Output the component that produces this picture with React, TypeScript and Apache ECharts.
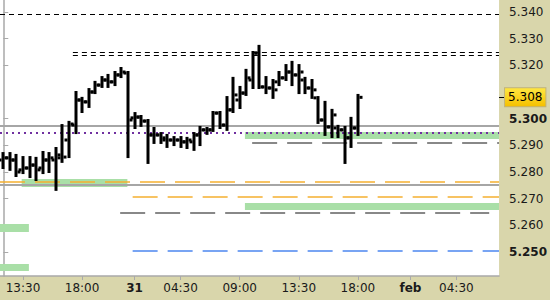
import React, { useEffect, useRef } from "react";
import * as echarts from "echarts";

// ---- time slots (30-minute bars, sessions) ----
const day30Slots = ["30 12:00", "30 12:30", "30 13:00", "30 13:30", "30 14:00", "30 14:30", "30 15:00", "30 15:30", "30 16:00", "30 16:30", "30 17:00", "30 17:30", "30 18:00", "30 18:30", "30 19:00", "30 19:30", "30 20:00", "30 20:30", "30 21:00", "30 21:30"];
const day31Slots = ["31 01:00", "31 01:30", "31 02:00", "31 02:30", "31 03:00", "31 03:30", "31 04:00", "31 04:30", "31 05:00", "31 05:30", "31 06:00", "31 06:30", "31 07:00", "31 07:30", "31 08:00", "31 08:30", "31 09:00", "31 09:30", "31 10:00", "31 10:30", "31 11:00", "31 11:30", "31 12:00", "31 12:30", "31 13:00", "31 13:30", "31 14:00", "31 14:30", "31 15:00", "31 15:30", "31 16:00", "31 16:30", "31 17:00", "31 17:30", "31 18:00", "31 18:30", "31 19:00", "31 19:30", "31 20:00", "31 20:30", "31 21:00", "31 21:30"];
const feb1Slots = ["01 01:00", "01 01:30", "01 02:00", "01 02:30", "01 03:00", "01 03:30", "01 04:00", "01 04:30", "01 05:00", "01 05:30", "01 06:00", "01 06:30", "01 07:00", "01 07:30"];
const timeSlots = [...day30Slots, ...day31Slots, ...feb1Slots];

const xTickIndex = [3, 12, 20, 27, 36, 45, 54, 62, 69];
const xTickLabels = ["13:30", "18:00", "31", "04:30", "09:00", "13:30", "18:00", "feb", "04:30"];
const boldXLabels = ["31", "feb"];

const yTickValues = [5.25, 5.26, 5.27, 5.28, 5.29, 5.3, 5.31, 5.32, 5.33, 5.34];
const boldYValues = [5.25, 5.3];
const yMin = 5.241;
const yMax = 5.3445;

// ---- OHLC bars ----
const opens = [5.2845, 5.2853, 5.2845, 5.2808, 5.2815, 5.2826, 5.2815, 5.2845, 5.2845, 5.2864, 5.292, 5.2976, 5.307, 5.3063, 5.31, 5.3126, 5.3145, 5.3138, 5.3164, 5.3171, 5.3003, 5.3006, 5.2991, 5.2939, 5.2939, 5.292, 5.292, 5.292, 5.2913, 5.2913, 5.2939, 5.2958, 5.2958, 5.3021, 5.2976, 5.3033, 5.307, 5.3096, 5.3145, 5.3246, 5.3119, 5.3115, 5.3138, 5.3153, 5.3175, 5.3164, 5.3145, 5.3115, 5.3078, 5.2995, 5.2969, 5.2965, 5.2958, 5.2928, 5.2965];
const highs = [5.2871, 5.2871, 5.2864, 5.2856, 5.2856, 5.2853, 5.2875, 5.2871, 5.289, 5.2976, 5.2988, 5.31, 5.3078, 5.3111, 5.3138, 5.3156, 5.3164, 5.3175, 5.319, 5.3175, 5.3021, 5.301, 5.2995, 5.2965, 5.2946, 5.2939, 5.2931, 5.2931, 5.2928, 5.2946, 5.2969, 5.2965, 5.3025, 5.3025, 5.3081, 5.3153, 5.3119, 5.3183, 5.325, 5.3273, 5.3156, 5.3145, 5.3175, 5.3201, 5.3213, 5.3201, 5.3153, 5.3145, 5.3081, 5.3063, 5.3033, 5.2973, 5.2969, 5.3003, 5.3089];
const lows = [5.2815, 5.2808, 5.2785, 5.2796, 5.2781, 5.277, 5.2796, 5.28, 5.2733, 5.2838, 5.2856, 5.2946, 5.3025, 5.3044, 5.3096, 5.3119, 5.3119, 5.3126, 5.3156, 5.2856, 5.2965, 5.2973, 5.2834, 5.2909, 5.2909, 5.2894, 5.2901, 5.2894, 5.289, 5.2883, 5.2901, 5.2943, 5.2954, 5.2965, 5.2958, 5.3025, 5.304, 5.3089, 5.3115, 5.3115, 5.3096, 5.3078, 5.3126, 5.3145, 5.3126, 5.3096, 5.3096, 5.3078, 5.2984, 5.2939, 5.2931, 5.2931, 5.2834, 5.2894, 5.2939];
const closes = [5.2853, 5.2845, 5.28, 5.2815, 5.2826, 5.2808, 5.2845, 5.2853, 5.2853, 5.2856, 5.298, 5.307, 5.3063, 5.31, 5.3126, 5.3145, 5.3138, 5.3164, 5.3175, 5.2995, 5.3006, 5.2991, 5.2939, 5.2939, 5.2928, 5.292, 5.292, 5.2913, 5.292, 5.2939, 5.2958, 5.2958, 5.3021, 5.2976, 5.3033, 5.3089, 5.3096, 5.3153, 5.3246, 5.3119, 5.3115, 5.3108, 5.3153, 5.3175, 5.3164, 5.3175, 5.3115, 5.3108, 5.2995, 5.2969, 5.3014, 5.2958, 5.2928, 5.2965, 5.308];
const lastPrice = 5.308;

// ---- horizontal levels (value, start slot, end slot) ----
const levelValues = [5.3393, 5.325, 5.3239, 5.2971, 5.2946, 5.2909, 5.2764, 5.2753, 5.2706, 5.2648, 5.2502];
const levelStarts = [-0.5, 10.6, 10.6, -0.5, -0.5, 37.9, -0.5, -0.5, 19.7, 17.8, 19.7];
const levelEnds = [75.5, 75.5, 75.5, 75.5, 75.5, 75.5, 75.5, 75.5, 75.5, 74, 75.5];
const levelKinds = ["black", "black", "black", "grey", "dots", "greyDash", "orange", "grey", "orange", "greyDash", "blue"];

// ---- green zones (top, bottom, start slot, end slot) ----
const zoneTops = [5.2774, 5.295, 5.2684, 5.2605, 5.2455];
const zoneBottoms = [5.2744, 5.2924, 5.2658, 5.2575, 5.2429];
const zoneStarts = [2.8, 36.8, 36.8, -0.5, -0.5];
const zoneEnds = [18.9, 75.5, 75.5, 3.9, 3.9];

const FONT = "DejaVu Sans";
const TEXT = "#1a1a1a";
const AXIS = "#a9a9a9";

const levelStyles: Record<string, any> = {
  black: { stroke: "#000000", lineWidth: 1, lineDash: [5, 4] },
  grey: { stroke: "#a6a6a6", lineWidth: 2, lineDash: null },
  dots: { stroke: "#7030a0", lineWidth: 2, lineDash: [2, 4] },
  greyDash: { stroke: "#888888", lineWidth: 2, lineDash: [25, 10] },
  orange: { stroke: "#f5b030", lineWidth: 1.5, lineDash: [25, 10] },
  blue: { stroke: "#4c86f0", lineWidth: 1.5, lineDash: [25, 10] },
};

export default function App() {
  const ref = useRef<HTMLDivElement>(null);

  useEffect(() => {
    if (!ref.current) return;
    const chart = echarts.init(ref.current, undefined, { renderer: "svg" });

    const barData = opens.map((o, i) => [i, o, highs[i], lows[i], closes[i]]);
    const zoneData = zoneTops.map((t, i) => [zoneStarts[i], t, zoneEnds[i], zoneBottoms[i]]);
    const levelData = levelValues.map((v, i) => [levelStarts[i], v, levelEnds[i]]);

    const yLabelValues = yTickValues.filter((v) => Math.abs(v - lastPrice) > 0.005);

    chart.setOption({
      animation: false,
      backgroundColor: "#d9d6ab",
      grid: {
        left: -2.3,
        right: 45,
        top: 0,
        bottom: 24,
        show: true,
        backgroundColor: "#ffffff",
        borderWidth: 0,
      },
      xAxis: [
        {
          type: "category",
          data: timeSlots,
          boundaryGap: true,
          axisLine: { show: true, lineStyle: { color: AXIS, width: 1.5 } },
          axisTick: {
            show: true,
            alignWithLabel: true,
            length: 4,
            interval: (idx: number) => xTickIndex.includes(idx),
            lineStyle: { color: AXIS },
          },
          axisLabel: {
            interval: (idx: number) => xTickIndex.includes(idx),
            margin: 6,
            color: TEXT,
            fontFamily: FONT,
            fontSize: 12,
            formatter: (_v: string, idx: number) => {
              const k = xTickIndex.indexOf(idx);
              if (k < 0) return "";
              const t = xTickLabels[k];
              return boldXLabels.includes(t) ? `{b|${t}}` : t;
            },
            rich: { b: { fontWeight: "bold", fontFamily: FONT, fontSize: 12, color: TEXT } },
          },
          splitLine: { show: false },
        },
        {
          type: "value",
          min: -0.5,
          max: 75.5,
          show: false,
        },
      ],
      yAxis: [
        {
          type: "value",
          position: "right",
          min: yMin,
          max: yMax,
          axisLine: { show: true, lineStyle: { color: AXIS, width: 1.5 } },
          axisTick: { show: true, length: 5, customValues: yLabelValues, lineStyle: { color: AXIS } },
          axisLabel: {
            customValues: yLabelValues,
            margin: 10,
            color: TEXT,
            fontFamily: FONT,
            fontSize: 12,
            formatter: (v: number) => {
              const s = v.toFixed(3);
              return boldYValues.some((b) => Math.abs(b - v) < 1e-6) ? `{b|${s}}` : s;
            },
            rich: { b: { fontWeight: "bold", fontFamily: FONT, fontSize: 12, color: TEXT } },
          },
          splitLine: { show: false },
        },
        {
          type: "value",
          position: "right",
          min: yMin,
          max: yMax,
          axisLine: { show: false },
          axisTick: { show: true, length: 5, customValues: [lastPrice], lineStyle: { color: "#000000", width: 1 } },
          axisLabel: {
            customValues: [lastPrice],
            margin: 6,
            color: "#000000",
            fontFamily: FONT,
            fontSize: 12,
            formatter: (v: number) => v.toFixed(3),
            padding: [3, 3, 3, 3],
            borderColor: "#c0b27a",
            borderWidth: 1,
            backgroundColor: new echarts.graphic.LinearGradient(0, 0, 0, 1, [
              { offset: 0, color: "#ffe640" },
              { offset: 1, color: "#f5c000" },
            ]),
          },
          splitLine: { show: false },
        },
      ],
      series: [
        {
          type: "custom",
          xAxisIndex: 1,
          yAxisIndex: 0,
          silent: true,
          z: 1,
          data: zoneData,
          encode: { x: [0, 2], y: [1, 3] },
          renderItem: (_p: any, api: any) => {
            const a = api.coord([api.value(0), api.value(1)]);
            const b = api.coord([api.value(2), api.value(3)]);
            const y0 = Math.round(a[1]);
            const y1 = Math.round(b[1]);
            return {
              type: "rect",
              shape: { x: a[0], y: y0, width: b[0] - a[0], height: y1 - y0 },
              style: { fill: "#a9dfa7" },
            };
          },
        },
        {
          type: "custom",
          xAxisIndex: 1,
          yAxisIndex: 0,
          silent: true,
          z: 3,
          data: levelData,
          encode: { x: [0, 2], y: 1 },
          renderItem: (params: any, api: any) => {
            const a = api.coord([api.value(0), api.value(1)]);
            const b = api.coord([api.value(2), api.value(1)]);
            const st = levelStyles[levelKinds[params.dataIndex]];
            const y = st.lineWidth === 1 ? Math.round(a[1]) + 0.5 : Math.round(a[1]);
            return {
              type: "line",
              shape: { x1: a[0], y1: y, x2: b[0], y2: y },
              style: { stroke: st.stroke, lineWidth: st.lineWidth, lineDash: st.lineDash },
            };
          },
        },
        {
          type: "custom",
          xAxisIndex: 0,
          yAxisIndex: 0,
          silent: true,
          z: 5,
          data: barData,
          encode: { x: 0, y: [1, 2, 3, 4] },
          renderItem: (_p: any, api: any) => {
            const idx = api.value(0);
            const h = api.coord([idx, api.value(2)]);
            const l = api.coord([idx, api.value(3)]);
            const o = api.coord([idx, api.value(1)]);
            const c = api.coord([idx, api.value(4)]);
            const x = Math.round(h[0]);
            const fill = { fill: "#000000" };
            return {
              type: "group",
              children: [
                { type: "rect", shape: { x: x - 1.5, y: h[1] - 1, width: 3, height: l[1] - h[1] + 2 }, style: fill },
                { type: "rect", shape: { x: x - 4.5, y: o[1] - 1.5, width: 3, height: 3 }, style: fill },
                { type: "rect", shape: { x: x + 1.5, y: c[1] - 1.5, width: 3, height: 3 }, style: fill },
              ],
            };
          },
        },
      ],
    });

    return () => chart.dispose();
  }, []);

  return (
    <div
      ref={ref}
      style={{ position: "fixed", left: 0, top: 0, width: 550, height: 300 }}
    />
  );
}
